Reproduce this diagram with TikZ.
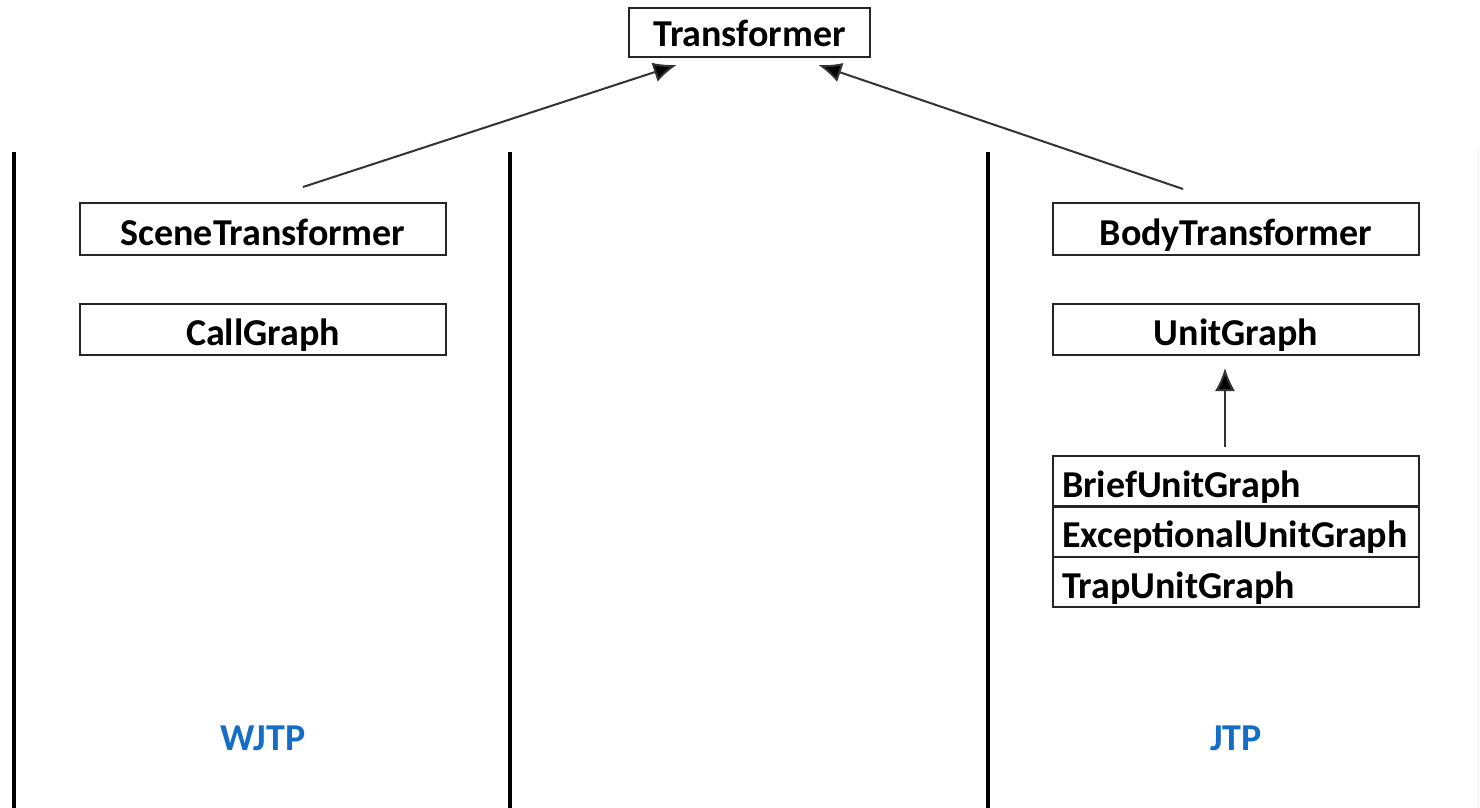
\documentclass[tikz,border=0pt]{standalone}
\usepackage{fontspec}
\setmainfont{Carlito}
\usetikzlibrary{arrows.meta}
\definecolor{labelblue}{RGB}{20,110,200}
\begin{document}
\begin{tikzpicture}[x=0.5pt,y=-0.5pt,
  every node/.style={font=\fontsize{19}{22}\selectfont\bfseries},
  classbox/.style={draw=black!85,line width=1pt,minimum width=183pt,minimum height=25.5pt,inner sep=0pt,text height=16.5pt,text depth=0.2pt},
  stackrow/.style={draw=black!85,line width=1pt,text width=174pt,inner xsep=4.5pt,inner ysep=0pt,minimum height=25pt,align=left,text height=16.5pt,text depth=0.2pt},
  lane/.style={line width=1.8pt,black},
  inherit/.style={draw=black!80,line width=1pt,-{Latex[length=11.5pt,width=10pt,fill=black]}},
  phase/.style={text=labelblue}]
  \useasboundingbox (0,0) rectangle (1480,808);

  % lane separators
  \draw[lane] (14,152) -- (14,808);
  \draw[lane] (510,152) -- (510,808);
  \draw[lane] (988,152) -- (988,808);
  \draw[gray!12,line width=0.5pt] (1478,150) -- (1478,808);

  % classes
  \node[classbox,minimum width=120.5pt,minimum height=24.5pt,text height=14pt,text depth=0pt] (tr) at (749.5,32.5) {Transformer};
  \node[classbox,minimum height=26pt] (st) at (263,229) {SceneTransformer};
  \node[classbox] (cg) at (263,329.5) {CallGraph};
  \node[classbox,minimum height=26pt] (bt) at (1236,229) {BodyTransformer};
  \node[classbox] (ug) at (1236,329.5) {UnitGraph};

  \node[stackrow] (bug) at (1236,481) {BriefUnitGraph};
  \node[stackrow] (eug) at (1236,531.5) {ExceptionalUnitGraph};
  \node[stackrow] (tug) at (1236,582) {TrapUnitGraph};

  % phase labels
  \node[phase] (wjtp) at (263,738) {WJTP};
  \node[phase] (jtp) at (1236,738) {JTP};

  % inheritance arrows
  \draw[inherit] ([xshift=20pt,yshift=7.5pt]st.north) -- ([xshift=-36.5pt,yshift=-3.5pt]tr.south);
  \draw[inherit] ([xshift=-26.5pt,yshift=6.5pt]bt.north) -- ([xshift=34.5pt,yshift=-3.5pt]tr.south);
  \draw[inherit] ([xshift=-5.5pt,yshift=4pt]bug.north) -- ([xshift=-5.5pt,yshift=-6pt]ug.south);
\end{tikzpicture}
\end{document}
